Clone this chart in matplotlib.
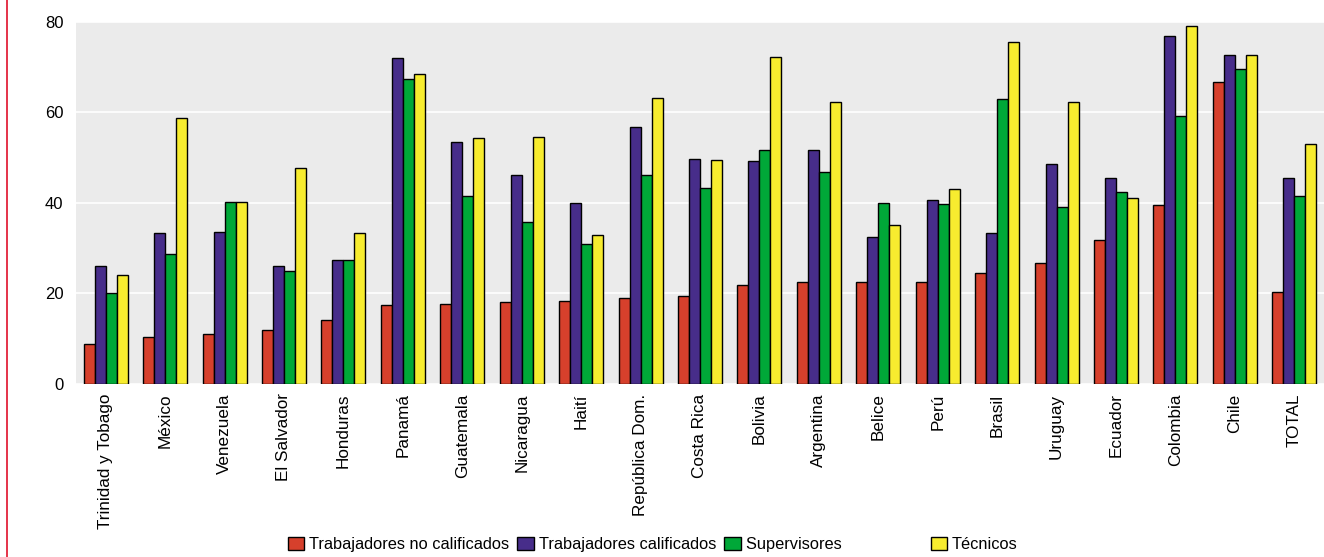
import matplotlib.pyplot as plt
import numpy as np
from matplotlib.lines import Line2D

paises = ["Trinidad y Tobago", "México", "Venezuela", "El Salvador", "Honduras",
          "Panamá", "Guatemala", "Nicaragua", "Haití", "República Dom.",
          "Costa Rica", "Bolivia", "Argentina", "Belice", "Perú", "Brasil",
          "Uruguay", "Ecuador", "Colombia", "Chile", "TOTAL"]

no_calificados = [8.8, 10.3, 11.0, 12.0, 14.0, 17.4, 17.6, 18.0, 18.2, 18.9,
                  19.5, 21.8, 22.4, 22.4, 22.4, 24.4, 26.8, 31.9, 39.5, 66.7, 20.3]
calificados = [26.0, 33.3, 33.5, 26.0, 27.4, 72.0, 53.4, 46.2, 39.9, 56.7,
               49.6, 49.2, 51.6, 32.4, 40.7, 33.3, 48.7, 45.4, 77.0, 72.6, 45.4]
supervisores = [20.0, 28.6, 40.2, 25.0, 27.4, 67.3, 41.6, 35.8, 30.9, 46.2,
                43.3, 51.6, 46.9, 39.9, 39.8, 62.9, 39.0, 42.5, 59.3, 69.7, 41.6]
tecnicos = [24.0, 58.7, 40.2, 47.8, 33.3, 68.4, 54.3, 54.6, 33.0, 63.2,
            49.5, 72.3, 62.3, 35.1, 43.1, 75.6, 62.3, 41.0, 79.2, 72.6, 53.1]

series = [("Trabajadores no calificados", no_calificados, "#d6402c"),
          ("Trabajadores calificados", calificados, "#472d8a"),
          ("Supervisores", supervisores, "#00a838"),
          ("Técnicos", tecnicos, "#f7ec2f")]

plt.rcParams['font.family'] = ['Liberation Sans', 'DejaVu Sans']

fig = plt.figure(figsize=(13.24, 5.57), dpi=100)
ax = fig.add_axes([0.0574, 0.311, 0.9426, 0.6495])
ax.set_facecolor("#ebebeb")

x = np.arange(len(paises))
w = 0.185
for i, (nombre, vals, col) in enumerate(series):
    # espacio extra antes de "Técnicos" en la leyenda
    etiqueta = nombre + "                  " if nombre == "Supervisores" else nombre
    ax.bar(x + (i - 1.5) * w, vals, w, color=col, edgecolor="black",
           linewidth=1.0, label=etiqueta, zorder=3)

ax.set_ylim(0, 80)
ax.set_xlim(-0.5, len(paises) - 0.5)
ax.set_yticks([0, 20, 40, 60, 80])
ax.yaxis.grid(True, color="white", linewidth=1.2, zorder=0)
ax.set_axisbelow(True)
ax.set_xticks(x)
ax.set_xticklabels(paises, rotation=90, fontsize=12.3)
ax.tick_params(axis="y", labelsize=12, length=0, pad=9)
ax.tick_params(axis="x", length=0, pad=7)
for s in ax.spines.values():
    s.set_visible(False)

fig.legend(loc="center", bbox_to_anchor=(0.493, 0.022), ncol=4, frameon=False,
           fontsize=11.8, handlelength=1.0, handleheight=0.8, handletextpad=0.3,
           columnspacing=0.5, borderpad=0)

fig.add_artist(Line2D([0.0053, 0.0053], [0, 1], color="#e0102a", linewidth=1.2))

fig.savefig("out.png", dpi=100)
